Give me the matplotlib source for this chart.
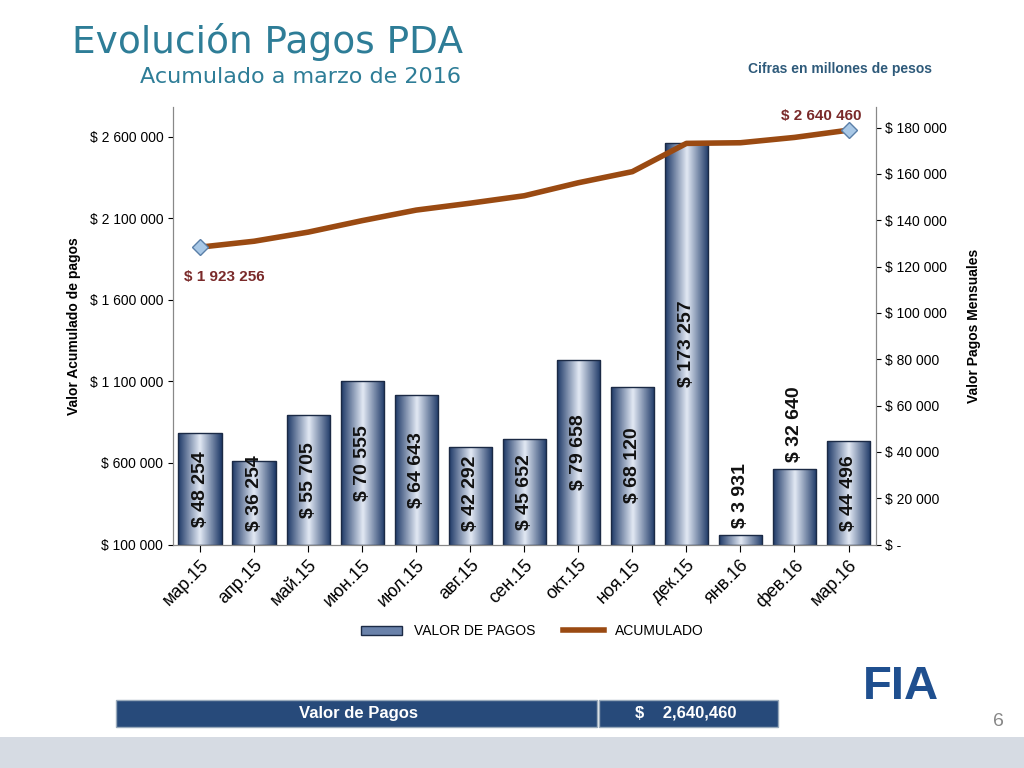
import matplotlib.pyplot as plt
import numpy as np
from matplotlib.patches import Rectangle, Patch
from matplotlib.lines import Line2D

plt.rcParams["font.family"] = "Liberation Sans"

months = ["мар.15", "апр.15", "май.15", "июн.15", "июл.15", "авг.15", "сен.15",
          "окт.15", "ноя.15", "дек.15", "янв.16", "фев.16", "мар.16"]
pagos = [48254, 36254, 55705, 70555, 64643, 42292, 45652, 79658, 68120, 173257, 3931, 32640, 44496]
acumulado = [1923256, 1959510, 2015215, 2085770, 2150413, 2192705, 2238357,
             2318015, 2386135, 2559392, 2563323, 2595963, 2640460]
left_ticks = [100000, 600000, 1100000, 1600000, 2100000, 2600000]
right_ticks = [0, 20000, 40000, 60000, 80000, 100000, 120000, 140000, 160000, 180000]

def fmt(v):
    return "$ " + f"{v:,}".replace(",", " ")

fig = plt.figure(figsize=(10.24, 7.68), dpi=100)
ax = fig.add_axes([0.169, 0.291, 0.686, 0.570])  # left axis (acumulado)
ax2 = ax.twinx()  # right axis (pagos)
ax.set_zorder(2); ax.patch.set_visible(False)

x = np.arange(len(months))
# gradient bars
grad = np.abs(np.linspace(-1, 1, 64))[None, :]
cmap = plt.matplotlib.colors.LinearSegmentedColormap.from_list("b", ["#dfe6f2", "#1f3a68"])
w = 0.8
for xi, v in zip(x, pagos):
    ax2.imshow(grad, cmap=cmap, extent=[xi - w/2, xi + w/2, 0, v], aspect="auto", zorder=1)
    ax2.add_patch(Rectangle((xi - w/2, 0), w, v, fill=False, ec="#1b2a45", lw=1, zorder=2))
    if v > 35000:
        ax2.text(xi, max(v * 0.5, 22000), fmt(v), rotation=90, ha="center", va="center",
                 fontsize=14, fontweight="bold", color="#111111", zorder=3)
    else:
        ax2.text(xi, v + 3000, fmt(v), rotation=90, ha="center", va="bottom",
                 fontsize=14, fontweight="bold", color="#111111", zorder=3)
ax2.set_xlim(-0.5, len(months) - 0.5)
ax2.set_ylim(0, 189000)
ax2.set_yticks(right_ticks)
ax2.set_yticklabels(["$ -"] + [fmt(t) for t in right_ticks[1:]], fontsize=10)
ax2.set_ylabel("Valor Pagos Mensuales", fontsize=10, fontweight="bold", labelpad=14)

ax.plot(x, acumulado, color="#9a4a12", lw=4, zorder=4, label="ACUMULADO")
ax.plot([x[0], x[-1]], [acumulado[0], acumulado[-1]], "D", ms=8, mfc="#a9c8e6",
        mec="#5a7fa8", zorder=5)
ax.text(x[0] - 0.3, acumulado[0] - 210000, fmt(acumulado[0]), color="#7a2a2a",
        fontsize=11, fontweight="bold", ha="left")
ax.text(x[-1] - 1.25, acumulado[-1] + 60000, fmt(acumulado[-1]), color="#7a2a2a",
        fontsize=11, fontweight="bold", ha="left")
ax.set_ylim(100000, 2784000)
ax.set_yticks(left_ticks)
ax.set_yticklabels([fmt(t) for t in left_ticks], fontsize=10)
ax.set_ylabel("Valor Acumulado de pagos", fontsize=10, fontweight="bold", labelpad=6)
ax.set_xticks(x)
ax.set_xticklabels(months, rotation=45, ha="right", rotation_mode="anchor", fontsize=13)
ax.tick_params(axis="x", length=5)
for a in (ax, ax2):
    a.spines["top"].set_visible(False)
    for s in a.spines.values():
        s.set_color("#888888")

# legend
fig.legend([Patch(fc="#6a82aa", ec="#1b2a45"), Line2D([], [], color="#9a4a12", lw=4)],
           ["VALOR DE PAGOS", "ACUMULADO"], loc="center", bbox_to_anchor=(0.52, 0.178),
           ncol=2, frameon=False, fontsize=10, handlelength=3)

# titles
fig.text(0.07, 0.945, "Evolución Pagos PDA", fontsize=27, color="#2e7d97", va="center",
         fontfamily="DejaVu Sans")
fig.text(0.137, 0.9, "Acumulado a marzo de 2016", fontsize=16, color="#2e7d97", va="center",
         fontfamily="DejaVu Sans")
fig.text(0.73, 0.91, "Cifras en millones de pesos", fontsize=10, color="#2e5a7a",
         fontweight="bold", va="center")

# bottom banner
fig.patches.append(Rectangle((0.113, 0.053), 0.47, 0.036, transform=fig.transFigure,
                             fc="#274a7a", ec="#9ab", lw=1))
fig.patches.append(Rectangle((0.585, 0.053), 0.175, 0.036, transform=fig.transFigure,
                             fc="#274a7a", ec="#9ab", lw=1))
fig.text(0.35, 0.071, "Valor de Pagos", color="white", fontsize=12, fontweight="bold",
         ha="center", va="center")
fig.text(0.67, 0.071, "$    2,640,460", color="white", fontsize=12, fontweight="bold",
         ha="center", va="center")
fig.patches.append(Rectangle((0.0, 0.0), 1.0, 0.04, transform=fig.transFigure,
                             fc="#d6dbe3", ec="none"))
fig.text(0.975, 0.06, "6", fontsize=14, color="#888888", ha="center", va="center")
fig.text(0.88, 0.105, "FIA", fontsize=34, fontweight="bold", color="#1f4f8f",
         ha="center", va="center")

fig.savefig("out.png", dpi=100)
